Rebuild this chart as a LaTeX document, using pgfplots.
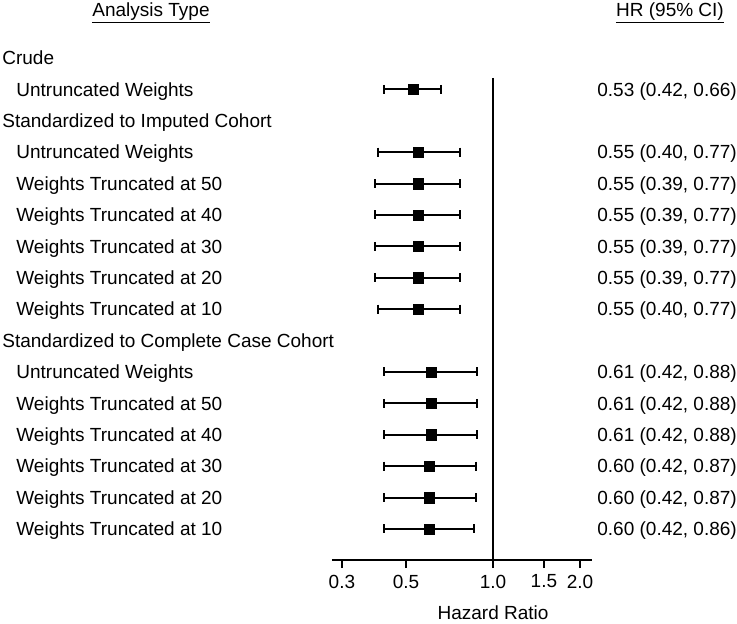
\documentclass[border=0pt]{standalone}
\usepackage{fontspec}
\setmainfont{Liberation Sans}
\usepackage{pgfplots}
\usepackage{pgfplotstable}
\pgfplotsset{compat=1.18}

% point estimates
\pgfplotstableread{
k hr
1 0.53
3 0.55
4 0.55
5 0.55
6 0.55
7 0.55
8 0.55
10 0.61
11 0.61
12 0.61
13 0.60
14 0.60
15 0.60
}\hrdata

% 95% confidence intervals (lower, upper) per row
\pgfplotstableread{
x k
0.42 1
0.66 1
nan nan
0.40 3
0.77 3
nan nan
0.39 4
0.77 4
nan nan
0.39 5
0.77 5
nan nan
0.39 6
0.77 6
nan nan
0.39 7
0.77 7
nan nan
0.40 8
0.77 8
nan nan
0.42 10
0.88 10
nan nan
0.42 11
0.88 11
nan nan
0.42 12
0.88 12
nan nan
0.42 13
0.87 13
nan nan
0.42 14
0.87 14
nan nan
0.42 15
0.86 15
}\cidata

\begin{document}
\fontsize{9.5}{11}\selectfont
\begin{tikzpicture}[
  lab/.style={anchor=base west, yshift=-3.4pt, inner sep=0pt, font=\fontsize{9.5}{11}\selectfont},
  head/.style={lab, xshift=-165pt},
  sub/.style={lab, xshift=-158pt},
  hr/.style={lab, xshift=2.5pt},
]
\path[use as bounding box] (-166pt,-32pt) rectangle (202.5pt,280pt);
\begin{axis}[
  at={(0,0)}, anchor=south west,
  scale only axis, width=130pt, height=241pt,
  xmode=log, xmin=0.2772, xmax=2.20,
  ymin=-15.99, ymax=-0.637,
  axis x line=bottom, axis y line=none,
  axis line style={line width=1pt, -},
  xtick={0.3,0.5,1,1.5,2},
  xticklabels={0.3,0.5,1.0,1.5,2.0},
  minor xtick={},
  tick align=outside, major tick length=4pt,
  every tick/.style={black, line width=1pt},
  xticklabel style={font=\fontsize{9.5}{11}\selectfont},
  /pgf/number format/assume math mode=true,
  clip=false,
  unbounded coords=jump,
]
\addplot[black, line width=1pt] coordinates {(1,-0.637) (1,-15.99)};
\addplot[black, line width=1pt, mark=|, mark options={mark size=2.25pt, line width=1pt}]
  table[x=x, y expr=-\thisrow{k}] {\cidata};
\addplot[black, only marks, mark=square*, mark size=2.6pt, mark options={line width=0.2pt}]
  table[x=hr, y expr=-\thisrow{k}] {\hrdata};

\node[head] at (axis cs:0.2772,0) {Crude};
\node[sub] at (axis cs:0.2772,-1) {Untruncated Weights};
\node[head] at (axis cs:0.2772,-2) {Standardized to Imputed Cohort};
\node[sub] at (axis cs:0.2772,-3) {Untruncated Weights};
\node[sub] at (axis cs:0.2772,-4) {Weights Truncated at 50};
\node[sub] at (axis cs:0.2772,-5) {Weights Truncated at 40};
\node[sub] at (axis cs:0.2772,-6) {Weights Truncated at 30};
\node[sub] at (axis cs:0.2772,-7) {Weights Truncated at 20};
\node[sub] at (axis cs:0.2772,-8) {Weights Truncated at 10};
\node[head] at (axis cs:0.2772,-9) {Standardized to Complete Case Cohort};
\node[sub] at (axis cs:0.2772,-10) {Untruncated Weights};
\node[sub] at (axis cs:0.2772,-11) {Weights Truncated at 50};
\node[sub] at (axis cs:0.2772,-12) {Weights Truncated at 40};
\node[sub] at (axis cs:0.2772,-13) {Weights Truncated at 30};
\node[sub] at (axis cs:0.2772,-14) {Weights Truncated at 20};
\node[sub] at (axis cs:0.2772,-15) {Weights Truncated at 10};

\node[hr] at (axis cs:2.20,-1) {0.53 (0.42, 0.66)};
\node[hr] at (axis cs:2.20,-3) {0.55 (0.40, 0.77)};
\node[hr] at (axis cs:2.20,-4) {0.55 (0.39, 0.77)};
\node[hr] at (axis cs:2.20,-5) {0.55 (0.39, 0.77)};
\node[hr] at (axis cs:2.20,-6) {0.55 (0.39, 0.77)};
\node[hr] at (axis cs:2.20,-7) {0.55 (0.39, 0.77)};
\node[hr] at (axis cs:2.20,-8) {0.55 (0.40, 0.77)};
\node[hr] at (axis cs:2.20,-10) {0.61 (0.42, 0.88)};
\node[hr] at (axis cs:2.20,-11) {0.61 (0.42, 0.88)};
\node[hr] at (axis cs:2.20,-12) {0.61 (0.42, 0.88)};
\node[hr] at (axis cs:2.20,-13) {0.60 (0.42, 0.87)};
\node[hr] at (axis cs:2.20,-14) {0.60 (0.42, 0.87)};
\node[hr] at (axis cs:2.20,-15) {0.60 (0.42, 0.86)};

\node[anchor=base, inner sep=0pt, yshift=-30pt] at (axis cs:1,-15.99) {Hazard Ratio};
\end{axis}
\node[anchor=base, inner sep=0pt] (h1) at (-90.5pt,271.5pt) {Analysis Type};
\draw[line width=0.5pt] ([yshift=-2.85pt]h1.base west) -- ([yshift=-2.85pt]h1.base east);
\node[anchor=base, inner sep=0pt] (h2) at (169pt,271.5pt) {HR (95\% CI)};
\draw[line width=0.5pt] ([yshift=-2.85pt]h2.base west) -- ([yshift=-2.85pt]h2.base east);
\end{tikzpicture}
\end{document}
